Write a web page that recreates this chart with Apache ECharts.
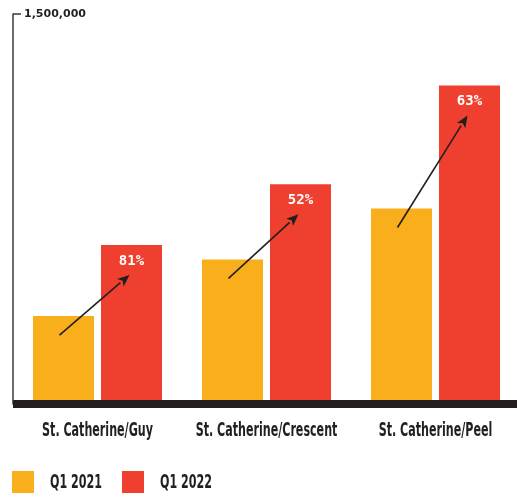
<!DOCTYPE html>
<html>
<head>
<meta charset="utf-8">
<script src="https://cdn.jsdelivr.net/npm/echarts@6/dist/echarts.min.js"></script>
<style>
  html, body { margin: 0; padding: 0; background: #ffffff; }
  #chart { width: 517px; height: 497px; }
</style>
</head>
<body>
<div id="chart"></div>
<script>
// Pedestrian counts at three downtown intersections, Q1 2021 vs Q1 2022
const categories = ['St. Catherine/Guy', 'St. Catherine/Crescent', 'St. Catherine/Peel'];
const seriesNames = ['Q1 2021', 'Q1 2022'];
const q1_2021 = [338000, 556000, 752000];
const q1_2022 = [612000, 845000, 1225000];
const yMax = 1500000;

const ORANGE = '#f9af1b';
const RED = '#ef3f2f';
const INK = '#231f20';
const CONDENSED = '"DejaVu Sans Condensed", "DejaVu Sans", sans-serif';
const BAR_W = 61;
const BAR_GAP = 7;
const HALF_STEP = (BAR_W + BAR_GAP) / 2;
const SQUEEZE = 0.65;   // horizontal squeeze for the condensed headline type

function growth(i) {
  return Math.round((q1_2022[i] / q1_2021[i] - 1) * 100);
}

// Arrow from the 2021 bar up to the 2022 bar of each pair
function renderArrow(params, api) {
  const idx = api.value(0);
  const a = api.coord([idx, api.value(1)]);
  const b = api.coord([idx, api.value(2)]);
  const x1 = a[0] - HALF_STEP - 4, y1 = a[1] + 19;
  const x2 = b[0] + HALF_STEP - 2, y2 = b[1] + 30;
  const ang = Math.atan2(y2 - y1, x2 - x1);
  const headLen = 12, headHalf = 5;
  const bx = x2 - headLen * Math.cos(ang), by = y2 - headLen * Math.sin(ang);
  const nx = -Math.sin(ang), ny = Math.cos(ang);
  return {
    type: 'group',
    children: [
      {
        type: 'line',
        shape: { x1: x1, y1: y1, x2: bx, y2: by },
        style: { stroke: INK, lineWidth: 1.6 }
      },
      {
        type: 'polygon',
        shape: {
          points: [
            [x2, y2],
            [bx + nx * headHalf, by + ny * headHalf],
            [x2 - (headLen - 3) * Math.cos(ang), y2 - (headLen - 3) * Math.sin(ang)],
            [bx - nx * headHalf, by - ny * headHalf]
          ]
        },
        style: { fill: INK }
      }
    ]
  };
}

const chart = echarts.init(document.getElementById('chart'));
chart.setOption({
  animation: false,
  backgroundColor: '#ffffff',
  grid: { left: 13, top: 14, right: -3, bottom: 93, containLabel: false, outerBoundsMode: 'none' },
  legend: { show: false, data: seriesNames },
  xAxis: {
    type: 'category',
    data: categories,
    z: 5,
    axisLine: { lineStyle: { color: INK, width: 8, cap: 'butt' } },
    axisTick: { show: false },
    axisLabel: { show: false }
  },
  yAxis: {
    type: 'value',
    min: 0,
    max: yMax,
    interval: yMax,
    axisLine: { show: true, lineStyle: { color: '#3a3a3a', width: 1.5 } },
    axisTick: { show: true, inside: true, length: 8, lineStyle: { color: '#3a3a3a', width: 1.5 } },
    splitLine: { show: false },
    axisLabel: {
      inside: true,
      margin: 11,
      fontFamily: '"DejaVu Sans", sans-serif',
      fontWeight: 'bold',
      fontSize: 11,
      color: INK,
      formatter: function (v) { return v === yMax ? v.toLocaleString('en-US') : ''; }
    }
  },
  series: [
    {
      name: seriesNames[0],
      type: 'bar',
      data: q1_2021,
      barWidth: BAR_W,
      barGap: (BAR_GAP / BAR_W * 100) + '%',
      itemStyle: { color: ORANGE }
    },
    {
      name: seriesNames[1],
      type: 'bar',
      data: q1_2022,
      barWidth: BAR_W,
      itemStyle: { color: RED },
      label: {
        show: true,
        position: 'insideTop',
        distance: 9,
        color: '#ffffff',
        fontFamily: '"DejaVu Sans Mono", monospace',
        fontWeight: 'bold',
        fontSize: 14,
        formatter: function (p) { return growth(p.dataIndex) + '%'; }
      }
    },
    {
      type: 'custom',
      renderItem: renderArrow,
      clip: false,
      z: 10,
      silent: true,
      data: categories.map(function (c, i) { return [i, q1_2021[i], q1_2022[i]]; })
    }
  ]
});

// Condensed category labels and legend, squeezed horizontally
const condensedText = function (text, x, y, align) {
  return {
    type: 'text',
    x: x, y: y,
    scaleX: SQUEEZE,
    style: {
      text: text,
      fill: INK,
      font: 'bold 19px ' + CONDENSED,
      align: align,
      verticalAlign: 'middle'
    },
    silent: true
  };
};

const graphics = [];
categories.forEach(function (c, i) {
  const px = chart.convertToPixel({ xAxisIndex: 0 }, i);
  graphics.push(condensedText(c, px, 431, 'center'));
});

const legendColors = [ORANGE, RED];
const legendX = [12, 122];
seriesNames.forEach(function (name, i) {
  graphics.push({
    type: 'rect',
    shape: { x: legendX[i], y: 471, width: 22, height: 22 },
    style: { fill: legendColors[i] },
    silent: true
  });
  graphics.push(condensedText(name, legendX[i] + 38, 483, 'left'));
});

chart.setOption({ graphic: graphics });
</script>
</body>
</html>
